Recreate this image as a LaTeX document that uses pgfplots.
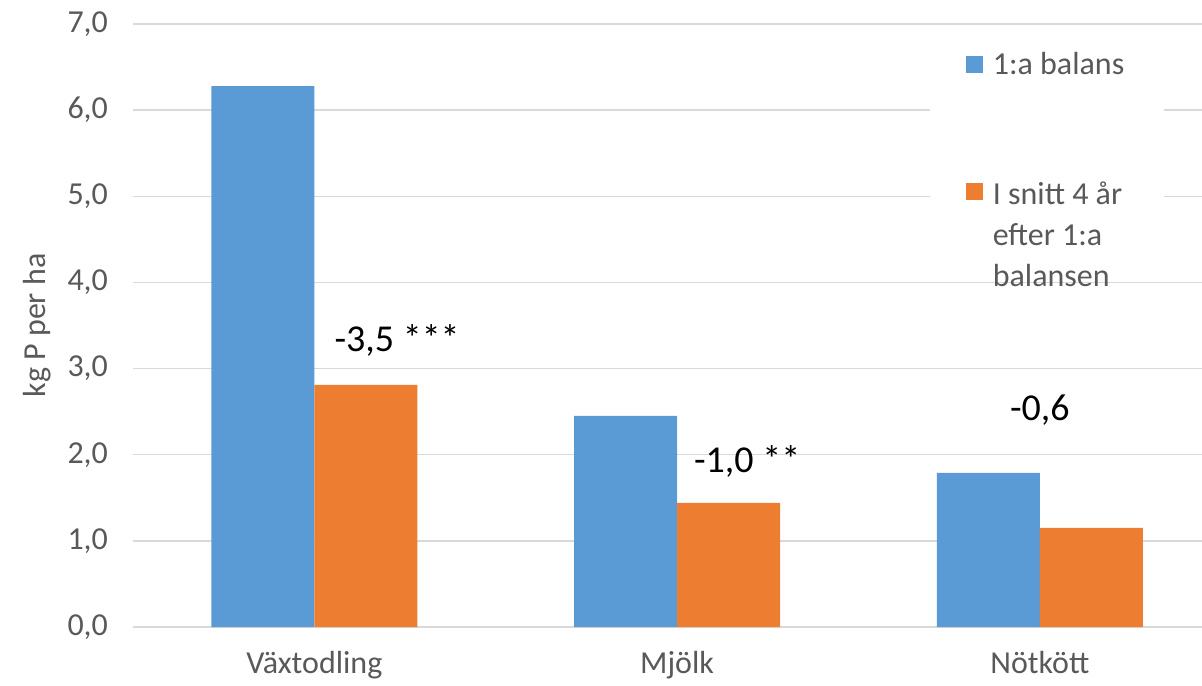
\documentclass[border=0pt]{standalone}
\usepackage{pgfplots}
\pgfplotsset{compat=1.18}
\usepackage{fontspec}
\setmainfont{Carlito}
\definecolor{cblue}{HTML}{5B9BD5}
\definecolor{corange}{HTML}{ED7D31}
\definecolor{cgrid}{HTML}{D9D9D9}
\definecolor{ctext}{HTML}{595959}
\begin{document}
\begin{tikzpicture}[x=1pt,y=1pt]
\useasboundingbox (0,0) rectangle (601,342.5);
\begin{axis}[
  at={(66.5pt,29pt)}, anchor=south west,
  scale only axis, width=534.5pt, height=301.5pt,
  ybar=0pt, bar width=51.5pt,
  xmin=-0.5, xmax=2.447, ymin=0, ymax=7,
  xtick={0,1,2}, xticklabels={Växtodling,Mjölk,Nötkött},
  ytick={0,1,...,7},
  major tick length=0pt,
  axis line style={draw=none},
  ymajorgrids, grid style={cgrid, line width=0.75pt},
  /pgf/number format/.cd, fixed, fixed zerofill, precision=1, use comma, assume math mode=true,
  /pgfplots/.cd,
  yticklabel style={font=\fontsize{16}{19}\selectfont, text=ctext, xshift=-9pt},
  xticklabel style={font=\fontsize{16}{19}\selectfont, text=ctext, yshift=-8.5pt},
  ylabel={kg P per ha},
  ylabel style={at={(axis description cs:-0.09,0.5)}, anchor=center, font=\fontsize{16}{19}\selectfont, text=ctext},
  legend style={at={(axis description cs:0.745,0.982)}, anchor=north west, draw=none, fill=white,
    font=\fontsize{16}{20.5}\selectfont, text=ctext, row sep=45pt, column sep=3pt,
    inner xsep=18pt, inner ysep=6.5pt},
  legend cell align=left,
]
\addplot[fill=cblue, draw=none, legend image code/.code={\fill[cblue] (0pt,-4.25pt) rectangle (8.5pt,4.25pt);}]
  coordinates {(0,6.28) (1,2.45) (2,1.79)};
\addlegendentry{1:a balans}
\addplot[fill=corange, draw=none, legend image code/.code={\fill[corange] (0pt,-4.25pt) rectangle (8.5pt,4.25pt);}]
  coordinates {(0,2.81) (1,1.44) (2,1.15)};
\addlegendentry{\begin{tabular}[t]{@{}l@{}}I snitt 4 år\\efter 1:a\\balansen\end{tabular}}
\node[font=\fontsize{19}{23}\selectfont] at (axis cs:0.228,3.33) {-3,5 ***};
\node[font=\fontsize{19}{23}\selectfont] at (axis cs:1.193,1.92) {-1,0 **};
\node[font=\fontsize{19}{23}\selectfont] at (axis cs:2.0,2.52) {-0,6};
\end{axis}
\end{tikzpicture}
\end{document}
